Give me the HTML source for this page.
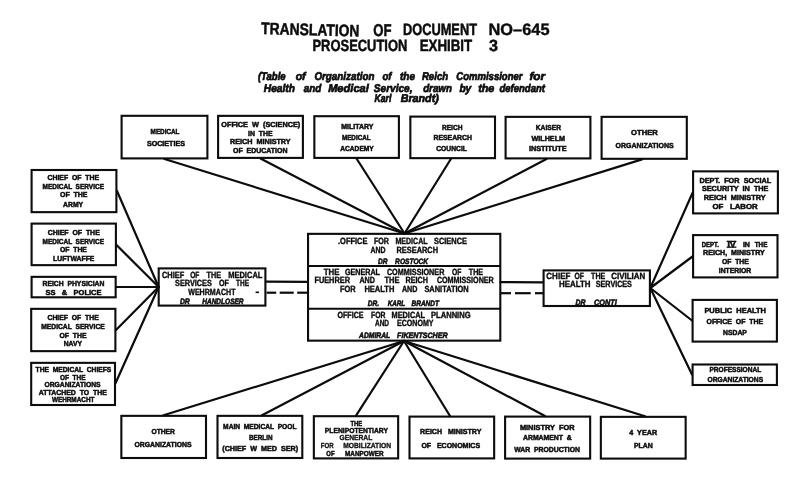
<!DOCTYPE html><html><head><meta charset="utf-8"><style>html,body{margin:0;padding:0;background:#fff;width:800px;height:480px;overflow:hidden}svg{display:block;will-change:transform}text{text-rendering:geometricPrecision}</style></head><body>
<svg width="800" height="480" viewBox="0 0 800 480">
<rect x="0" y="0" width="800" height="480" fill="#fff"/>
<g fill="none" stroke="#0c0c0c" stroke-width="2.1" stroke-linecap="square">
<rect x="121.60" y="115.80" width="85.80" height="42.60"/>
<rect x="218.10" y="115.85" width="84.80" height="42.05"/>
<rect x="314.35" y="116.20" width="84.55" height="41.70"/>
<rect x="410.35" y="116.60" width="84.65" height="41.55"/>
<rect x="505.60" y="116.85" width="84.80" height="41.55"/>
<rect x="601.60" y="116.85" width="85.20" height="41.95"/>
<rect x="31.60" y="170.00" width="84.80" height="42.15"/>
<rect x="31.60" y="223.60" width="84.30" height="41.55"/>
<rect x="31.60" y="276.85" width="84.05" height="20.45"/>
<rect x="31.20" y="308.85" width="84.20" height="42.30"/>
<rect x="31.20" y="362.85" width="83.80" height="42.15"/>
<rect x="693.10" y="171.35" width="84.80" height="42.05"/>
<rect x="693.10" y="235.10" width="84.40" height="42.30"/>
<rect x="692.60" y="299.90" width="84.30" height="41.70"/>
<rect x="692.60" y="364.50" width="84.30" height="20.50"/>
<rect x="121.35" y="415.85" width="84.65" height="42.15"/>
<rect x="217.50" y="415.85" width="84.80" height="42.15"/>
<rect x="313.85" y="416.20" width="84.30" height="42.20"/>
<rect x="409.50" y="416.60" width="84.65" height="41.80"/>
<rect x="505.10" y="416.60" width="85.05" height="42.00"/>
<rect x="600.85" y="416.85" width="84.80" height="41.75"/>
<rect x="308.05" y="233.85" width="192.25" height="106.80"/>
<rect x="158.70" y="268.40" width="106.70" height="37.20"/>
<rect x="543.60" y="270.40" width="106.30" height="35.60"/>
</g>
<g fill="none" stroke="#0c0c0c" stroke-width="2.2" stroke-linecap="round">
<line x1="164.5" y1="159" x2="404.5" y2="233.5"/>
<line x1="260.5" y1="158.5" x2="404.5" y2="233.5"/>
<line x1="356.5" y1="158.5" x2="404.5" y2="233.5"/>
<line x1="451" y1="158.75" x2="404.5" y2="233.5"/>
<line x1="546.5" y1="159" x2="404.5" y2="233.5"/>
<line x1="642" y1="159.4" x2="404.5" y2="233.5"/>
<line x1="404" y1="341" x2="163.5" y2="415.25"/>
<line x1="404" y1="341" x2="262" y2="415.25"/>
<line x1="404" y1="341" x2="356" y2="415.6"/>
<line x1="404" y1="341" x2="450" y2="416"/>
<line x1="404" y1="341" x2="545" y2="416"/>
<line x1="404" y1="341" x2="645" y2="416.25"/>
<line x1="117" y1="191" x2="158.6" y2="287"/>
<line x1="116.5" y1="245" x2="158.6" y2="287"/>
<line x1="116.25" y1="287" x2="158.6" y2="287"/>
<line x1="116" y1="330" x2="158.6" y2="287"/>
<line x1="115.6" y1="383" x2="158.6" y2="287"/>
<line x1="650.3" y1="288" x2="692.5" y2="193"/>
<line x1="650.3" y1="288" x2="692.5" y2="256.5"/>
<line x1="650.3" y1="288" x2="692" y2="320.5"/>
<line x1="650.3" y1="288" x2="692" y2="374.5"/>
<line x1="266" y1="281.6" x2="308" y2="281.8"/>
<line x1="500.6" y1="282.2" x2="543" y2="282.3"/>
<line x1="308" y1="266" x2="500.6" y2="266" stroke-linecap="butt"/>
<line x1="308" y1="308.75" x2="500.6" y2="308.75" stroke-linecap="butt"/>
<line x1="266.6" y1="292.7" x2="276.2" y2="292.7" stroke-linecap="butt"/>
<line x1="279.7" y1="292.7" x2="293.7" y2="292.7" stroke-linecap="butt"/>
<line x1="297.2" y1="292.7" x2="308" y2="292.7" stroke-linecap="butt"/>
<line x1="501" y1="293.2" x2="511" y2="293.2" stroke-linecap="butt"/>
<line x1="515" y1="293.2" x2="530.7" y2="293.2" stroke-linecap="butt"/>
<line x1="535" y1="293.2" x2="543" y2="293.2" stroke-linecap="butt"/>
</g>
<g fill="#0c0c0c">
<rect x="255.6" y="291.5" width="3.4" height="1.6"/>
<rect x="726.6" y="240.7" width="9.8" height="1.3"/>
<rect x="726.6" y="246.5" width="9.8" height="1.3"/>
<text x="150.60" y="133.68" font-size="7.35" font-family="Liberation Sans" font-weight="bold" stroke="#0c0c0c" stroke-width="0.5" textLength="28.90" lengthAdjust="spacingAndGlyphs" xml:space="preserve">MEDICAL</text>
<text x="146.90" y="146.13" font-size="7.35" font-family="Liberation Sans" font-weight="bold" stroke="#0c0c0c" stroke-width="0.5" textLength="38.10" lengthAdjust="spacingAndGlyphs" xml:space="preserve">SOCIETIES</text>
<text x="221.25" y="127.43" font-size="7.35" font-family="Liberation Sans" font-weight="bold" stroke="#0c0c0c" stroke-width="0.5" textLength="79.00" lengthAdjust="spacingAndGlyphs" xml:space="preserve">OFFICE  W  (SCIENCE)</text>
<text x="248.00" y="135.83" font-size="7.35" font-family="Liberation Sans" font-weight="bold" stroke="#0c0c0c" stroke-width="0.5" textLength="24.50" lengthAdjust="spacingAndGlyphs" xml:space="preserve">IN  THE</text>
<text x="230.00" y="144.43" font-size="7.35" font-family="Liberation Sans" font-weight="bold" stroke="#0c0c0c" stroke-width="0.5" textLength="60.60" lengthAdjust="spacingAndGlyphs" xml:space="preserve">REICH  MINISTRY</text>
<text x="233.00" y="152.90" font-size="7.35" font-family="Liberation Sans" font-weight="bold" stroke="#0c0c0c" stroke-width="0.5" textLength="54.50" lengthAdjust="spacingAndGlyphs" xml:space="preserve">OF  EDUCATION</text>
<text x="341.25" y="129.43" font-size="7.35" font-family="Liberation Sans" font-weight="bold" stroke="#0c0c0c" stroke-width="0.5" textLength="32.25" lengthAdjust="spacingAndGlyphs" xml:space="preserve">MILITARY</text>
<text x="341.90" y="140.30" font-size="7.35" font-family="Liberation Sans" font-weight="bold" stroke="#0c0c0c" stroke-width="0.5" textLength="28.70" lengthAdjust="spacingAndGlyphs" xml:space="preserve">MEDICAL</text>
<text x="340.25" y="150.93" font-size="7.35" font-family="Liberation Sans" font-weight="bold" stroke="#0c0c0c" stroke-width="0.5" textLength="33.50" lengthAdjust="spacingAndGlyphs" xml:space="preserve">ACADEMY</text>
<text x="441.90" y="129.80" font-size="7.35" font-family="Liberation Sans" font-weight="bold" stroke="#0c0c0c" stroke-width="0.5" textLength="20.60" lengthAdjust="spacingAndGlyphs" xml:space="preserve">REICH</text>
<text x="433.50" y="140.40" font-size="7.35" font-family="Liberation Sans" font-weight="bold" stroke="#0c0c0c" stroke-width="0.5" textLength="38.40" lengthAdjust="spacingAndGlyphs" xml:space="preserve">RESEARCH</text>
<text x="436.25" y="151.48" font-size="7.35" font-family="Liberation Sans" font-weight="bold" stroke="#0c0c0c" stroke-width="0.5" textLength="30.65" lengthAdjust="spacingAndGlyphs" xml:space="preserve">COUNCIL</text>
<text x="535.75" y="130.10" font-size="7.35" font-family="Liberation Sans" font-weight="bold" stroke="#0c0c0c" stroke-width="0.5" textLength="25.25" lengthAdjust="spacingAndGlyphs" xml:space="preserve">KAISER</text>
<text x="531.40" y="140.53" font-size="7.35" font-family="Liberation Sans" font-weight="bold" stroke="#0c0c0c" stroke-width="0.5" textLength="33.70" lengthAdjust="spacingAndGlyphs" xml:space="preserve">WILHELM</text>
<text x="528.90" y="151.28" font-size="7.35" font-family="Liberation Sans" font-weight="bold" stroke="#0c0c0c" stroke-width="0.5" textLength="37.85" lengthAdjust="spacingAndGlyphs" xml:space="preserve">INSTITUTE</text>
<text x="631.10" y="134.93" font-size="7.35" font-family="Liberation Sans" font-weight="bold" stroke="#0c0c0c" stroke-width="0.5" textLength="26.65" lengthAdjust="spacingAndGlyphs" xml:space="preserve">OTHER</text>
<text x="615.50" y="147.55" font-size="7.35" font-family="Liberation Sans" font-weight="bold" stroke="#0c0c0c" stroke-width="0.5" textLength="58.10" lengthAdjust="spacingAndGlyphs" xml:space="preserve">ORGANIZATIONS</text>
<text x="47.50" y="180.23" font-size="7.35" font-family="Liberation Sans" font-weight="bold" stroke="#0c0c0c" stroke-width="0.5" textLength="51.50" lengthAdjust="spacingAndGlyphs" xml:space="preserve">CHIEF  OF  THE</text>
<text x="42.50" y="189.18" font-size="7.35" font-family="Liberation Sans" font-weight="bold" stroke="#0c0c0c" stroke-width="0.5" textLength="61.50" lengthAdjust="spacingAndGlyphs" xml:space="preserve">MEDICAL  SERVICE</text>
<text x="60.00" y="197.43" font-size="7.35" font-family="Liberation Sans" font-weight="bold" stroke="#0c0c0c" stroke-width="0.5" textLength="27.50" lengthAdjust="spacingAndGlyphs" xml:space="preserve">OF  THE</text>
<text x="63.10" y="206.80" font-size="7.35" font-family="Liberation Sans" font-weight="bold" stroke="#0c0c0c" stroke-width="0.5" textLength="20.00" lengthAdjust="spacingAndGlyphs" xml:space="preserve">ARMY</text>
<text x="47.75" y="234.80" font-size="7.35" font-family="Liberation Sans" font-weight="bold" stroke="#0c0c0c" stroke-width="0.5" textLength="52.00" lengthAdjust="spacingAndGlyphs" xml:space="preserve">CHIEF  OF  THE</text>
<text x="42.50" y="243.53" font-size="7.35" font-family="Liberation Sans" font-weight="bold" stroke="#0c0c0c" stroke-width="0.5" textLength="61.50" lengthAdjust="spacingAndGlyphs" xml:space="preserve">MEDICAL  SERVICE</text>
<text x="60.00" y="251.78" font-size="7.35" font-family="Liberation Sans" font-weight="bold" stroke="#0c0c0c" stroke-width="0.5" textLength="26.90" lengthAdjust="spacingAndGlyphs" xml:space="preserve">OF  THE</text>
<text x="53.10" y="260.73" font-size="7.35" font-family="Liberation Sans" font-weight="bold" stroke="#0c0c0c" stroke-width="0.5" textLength="41.30" lengthAdjust="spacingAndGlyphs" xml:space="preserve">LUFTWAFFE</text>
<text x="42.50" y="286.03" font-size="7.35" font-family="Liberation Sans" font-weight="bold" stroke="#0c0c0c" stroke-width="0.5" textLength="61.90" lengthAdjust="spacingAndGlyphs" xml:space="preserve">REICH  PHYSICIAN</text>
<text x="45.60" y="295.23" font-size="7.35" font-family="Liberation Sans" font-weight="bold" stroke="#0c0c0c" stroke-width="0.5" textLength="55.90" lengthAdjust="spacingAndGlyphs" xml:space="preserve">SS   &amp;   POLICE</text>
<text x="47.50" y="320.43" font-size="7.35" font-family="Liberation Sans" font-weight="bold" stroke="#0c0c0c" stroke-width="0.5" textLength="51.25" lengthAdjust="spacingAndGlyphs" xml:space="preserve">CHIEF  OF  THE</text>
<text x="41.25" y="328.98" font-size="7.35" font-family="Liberation Sans" font-weight="bold" stroke="#0c0c0c" stroke-width="0.5" textLength="63.50" lengthAdjust="spacingAndGlyphs" xml:space="preserve">MEDICAL  SERVICE</text>
<text x="59.40" y="337.60" font-size="7.35" font-family="Liberation Sans" font-weight="bold" stroke="#0c0c0c" stroke-width="0.5" textLength="27.10" lengthAdjust="spacingAndGlyphs" xml:space="preserve">OF  THE</text>
<text x="63.75" y="346.03" font-size="7.35" font-family="Liberation Sans" font-weight="bold" stroke="#0c0c0c" stroke-width="0.5" textLength="18.15" lengthAdjust="spacingAndGlyphs" xml:space="preserve">NAVY</text>
<text x="35.60" y="371.80" font-size="7.35" font-family="Liberation Sans" font-weight="bold" stroke="#0c0c0c" stroke-width="0.5" textLength="75.65" lengthAdjust="spacingAndGlyphs" xml:space="preserve">THE  MEDICAL  CHIEFS</text>
<text x="60.00" y="380.03" font-size="7.35" font-family="Liberation Sans" font-weight="bold" stroke="#0c0c0c" stroke-width="0.5" textLength="25.60" lengthAdjust="spacingAndGlyphs" xml:space="preserve">OF  THE</text>
<text x="44.40" y="387.35" font-size="7.35" font-family="Liberation Sans" font-weight="bold" stroke="#0c0c0c" stroke-width="0.5" textLength="56.20" lengthAdjust="spacingAndGlyphs" xml:space="preserve">ORGANIZATIONS</text>
<text x="38.75" y="394.85" font-size="7.35" font-family="Liberation Sans" font-weight="bold" stroke="#0c0c0c" stroke-width="0.5" textLength="68.15" lengthAdjust="spacingAndGlyphs" xml:space="preserve">ATTACHED  TO  THE</text>
<text x="51.90" y="402.35" font-size="7.35" font-family="Liberation Sans" font-weight="bold" stroke="#0c0c0c" stroke-width="0.5" textLength="42.50" lengthAdjust="spacingAndGlyphs" xml:space="preserve">WEHRMACHT</text>
<text x="699.40" y="182.73" font-size="7.35" font-family="Liberation Sans" font-weight="bold" stroke="#0c0c0c" stroke-width="0.5" textLength="71.85" lengthAdjust="spacingAndGlyphs" xml:space="preserve">DEPT.  FOR  SOCIAL</text>
<text x="701.90" y="191.15" font-size="7.35" font-family="Liberation Sans" font-weight="bold" stroke="#0c0c0c" stroke-width="0.5" textLength="66.60" lengthAdjust="spacingAndGlyphs" xml:space="preserve">SECURITY  IN  THE</text>
<text x="703.75" y="199.80" font-size="7.35" font-family="Liberation Sans" font-weight="bold" stroke="#0c0c0c" stroke-width="0.5" textLength="61.85" lengthAdjust="spacingAndGlyphs" xml:space="preserve">REICH  MINISTRY</text>
<text x="712.50" y="208.53" font-size="7.35" font-family="Liberation Sans" font-weight="bold" stroke="#0c0c0c" stroke-width="0.5" textLength="45.25" lengthAdjust="spacingAndGlyphs" xml:space="preserve">OF   LABOR</text>
<text x="701.75" y="247.23" font-size="7.35" font-family="Liberation Sans" font-weight="bold" stroke="#0c0c0c" stroke-width="0.5" textLength="17.05" lengthAdjust="spacingAndGlyphs" xml:space="preserve">DEPT.</text>
<text x="727.60" y="247.23" font-size="7.35" font-family="Liberation Sans" font-weight="bold" stroke="#0c0c0c" stroke-width="0.5" textLength="7.80" lengthAdjust="spacingAndGlyphs" xml:space="preserve">IV</text>
<text x="742.90" y="247.23" font-size="7.35" font-family="Liberation Sans" font-weight="bold" stroke="#0c0c0c" stroke-width="0.5" textLength="7.00" lengthAdjust="spacingAndGlyphs" xml:space="preserve">IN</text>
<text x="754.70" y="247.23" font-size="7.35" font-family="Liberation Sans" font-weight="bold" stroke="#0c0c0c" stroke-width="0.5" textLength="12.70" lengthAdjust="spacingAndGlyphs" xml:space="preserve">THE</text>
<text x="703.10" y="255.28" font-size="7.35" font-family="Liberation Sans" font-weight="bold" stroke="#0c0c0c" stroke-width="0.5" textLength="61.65" lengthAdjust="spacingAndGlyphs" xml:space="preserve">REICH,  MINISTRY</text>
<text x="721.90" y="264.05" font-size="7.35" font-family="Liberation Sans" font-weight="bold" stroke="#0c0c0c" stroke-width="0.5" textLength="26.85" lengthAdjust="spacingAndGlyphs" xml:space="preserve">OF  THE</text>
<text x="718.75" y="272.65" font-size="7.35" font-family="Liberation Sans" font-weight="bold" stroke="#0c0c0c" stroke-width="0.5" textLength="32.50" lengthAdjust="spacingAndGlyphs" xml:space="preserve">INTERIOR</text>
<text x="704.40" y="312.93" font-size="7.35" font-family="Liberation Sans" font-weight="bold" stroke="#0c0c0c" stroke-width="0.5" textLength="61.60" lengthAdjust="spacingAndGlyphs" xml:space="preserve">PUBLIC  HEALTH</text>
<text x="706.50" y="323.85" font-size="7.35" font-family="Liberation Sans" font-weight="bold" stroke="#0c0c0c" stroke-width="0.5" textLength="56.60" lengthAdjust="spacingAndGlyphs" xml:space="preserve">OFFICE  OF  THE</text>
<text x="723.10" y="334.60" font-size="7.35" font-family="Liberation Sans" font-weight="bold" stroke="#0c0c0c" stroke-width="0.5" textLength="23.80" lengthAdjust="spacingAndGlyphs" xml:space="preserve">NSDAP</text>
<text x="709.40" y="372.43" font-size="7.35" font-family="Liberation Sans" font-weight="bold" stroke="#0c0c0c" stroke-width="0.5" textLength="51.85" lengthAdjust="spacingAndGlyphs" xml:space="preserve">PROFESSIONAL</text>
<text x="707.50" y="381.80" font-size="7.35" font-family="Liberation Sans" font-weight="bold" stroke="#0c0c0c" stroke-width="0.5" textLength="55.60" lengthAdjust="spacingAndGlyphs" xml:space="preserve">ORGANIZATIONS</text>
<text x="151.50" y="433.53" font-size="7.35" font-family="Liberation Sans" font-weight="bold" stroke="#0c0c0c" stroke-width="0.5" textLength="23.40" lengthAdjust="spacingAndGlyphs" xml:space="preserve">OTHER</text>
<text x="134.50" y="446.68" font-size="7.35" font-family="Liberation Sans" font-weight="bold" stroke="#0c0c0c" stroke-width="0.5" textLength="57.00" lengthAdjust="spacingAndGlyphs" xml:space="preserve">ORGANIZATIONS</text>
<text x="223.10" y="428.85" font-size="7.35" font-family="Liberation Sans" font-weight="bold" stroke="#0c0c0c" stroke-width="0.5" textLength="73.40" lengthAdjust="spacingAndGlyphs" xml:space="preserve">MAIN  MEDICAL  POOL</text>
<text x="249.00" y="439.93" font-size="7.35" font-family="Liberation Sans" font-weight="bold" stroke="#0c0c0c" stroke-width="0.5" textLength="23.50" lengthAdjust="spacingAndGlyphs" xml:space="preserve">BERLIN</text>
<text x="222.25" y="450.73" font-size="7.35" font-family="Liberation Sans" font-weight="bold" stroke="#0c0c0c" stroke-width="0.5" textLength="75.85" lengthAdjust="spacingAndGlyphs" xml:space="preserve">(CHIEF  W  MED  SER)</text>
<text x="350.40" y="425.53" font-size="7.35" font-family="Liberation Sans" font-weight="bold" stroke="#0c0c0c" stroke-width="0.5" textLength="11.85" lengthAdjust="spacingAndGlyphs" xml:space="preserve">THE</text>
<text x="324.75" y="433.23" font-size="7.35" font-family="Liberation Sans" font-weight="bold" stroke="#0c0c0c" stroke-width="0.5" textLength="63.15" lengthAdjust="spacingAndGlyphs" xml:space="preserve">PLENIPOTENTIARY</text>
<text x="339.50" y="440.35" font-size="7.35" font-family="Liberation Sans" font-weight="bold" stroke="#0c0c0c" stroke-width="0.3" textLength="32.75" lengthAdjust="spacingAndGlyphs" xml:space="preserve">GENERAL</text>
<text x="320.85" y="448.23" font-size="7.35" font-family="Liberation Sans" font-weight="bold" stroke="#0c0c0c" stroke-width="0.3" textLength="12.85" lengthAdjust="spacingAndGlyphs" xml:space="preserve">FOR</text>
<text x="343.20" y="448.23" font-size="7.35" font-family="Liberation Sans" font-weight="bold" stroke="#0c0c0c" stroke-width="0.3" textLength="47.90" lengthAdjust="spacingAndGlyphs" xml:space="preserve">MOBILIZATION</text>
<text x="326.30" y="455.65" font-size="7.35" font-family="Liberation Sans" font-weight="bold" stroke="#0c0c0c" stroke-width="0.5" textLength="8.30" lengthAdjust="spacingAndGlyphs" xml:space="preserve">OF</text>
<text x="345.00" y="455.65" font-size="7.35" font-family="Liberation Sans" font-weight="bold" stroke="#0c0c0c" stroke-width="0.5" textLength="38.50" lengthAdjust="spacingAndGlyphs" xml:space="preserve">MANPOWER</text>
<text x="420.10" y="434.10" font-size="7.35" font-family="Liberation Sans" font-weight="bold" stroke="#0c0c0c" stroke-width="0.5" textLength="61.30" lengthAdjust="spacingAndGlyphs" xml:space="preserve">REICH   MINISTRY</text>
<text x="421.40" y="447.73" font-size="7.35" font-family="Liberation Sans" font-weight="bold" stroke="#0c0c0c" stroke-width="0.5" textLength="58.70" lengthAdjust="spacingAndGlyphs" xml:space="preserve">OF   ECONOMICS</text>
<text x="519.90" y="429.80" font-size="7.35" font-family="Liberation Sans" font-weight="bold" stroke="#0c0c0c" stroke-width="0.5" textLength="54.60" lengthAdjust="spacingAndGlyphs" xml:space="preserve">MINISTRY  FOR</text>
<text x="523.00" y="440.23" font-size="7.35" font-family="Liberation Sans" font-weight="bold" stroke="#0c0c0c" stroke-width="0.5" textLength="48.75" lengthAdjust="spacingAndGlyphs" xml:space="preserve">ARMAMENT  &amp;</text>
<text x="514.25" y="451.60" font-size="7.35" font-family="Liberation Sans" font-weight="bold" stroke="#0c0c0c" stroke-width="0.5" textLength="65.65" lengthAdjust="spacingAndGlyphs" xml:space="preserve">WAR  PRODUCTION</text>
<text x="629.25" y="435.10" font-size="7.35" font-family="Liberation Sans" font-weight="bold" stroke="#0c0c0c" stroke-width="0.5" textLength="27.85" lengthAdjust="spacingAndGlyphs" xml:space="preserve">4  YEAR</text>
<text x="634.00" y="447.73" font-size="7.35" font-family="Liberation Sans" font-weight="bold" stroke="#0c0c0c" stroke-width="0.5" textLength="18.75" lengthAdjust="spacingAndGlyphs" xml:space="preserve">PLAN</text>
<text x="338.00" y="243.83" font-size="8.95" font-family="Liberation Sans" font-weight="bold" stroke="#0c0c0c" stroke-width="0.4" textLength="29.50" lengthAdjust="spacingAndGlyphs" xml:space="preserve">.OFFICE</text>
<text x="374.00" y="243.83" font-size="8.95" font-family="Liberation Sans" font-weight="bold" stroke="#0c0c0c" stroke-width="0.4" textLength="15.00" lengthAdjust="spacingAndGlyphs" xml:space="preserve">FOR</text>
<text x="395.50" y="243.83" font-size="8.95" font-family="Liberation Sans" font-weight="bold" stroke="#0c0c0c" stroke-width="0.4" textLength="32.00" lengthAdjust="spacingAndGlyphs" xml:space="preserve">MEDICAL</text>
<text x="434.00" y="243.83" font-size="8.95" font-family="Liberation Sans" font-weight="bold" stroke="#0c0c0c" stroke-width="0.4" textLength="33.00" lengthAdjust="spacingAndGlyphs" xml:space="preserve">SCIENCE</text>
<text x="370.50" y="252.78" font-size="8.95" font-family="Liberation Sans" font-weight="bold" stroke="#0c0c0c" stroke-width="0.4" textLength="15.00" lengthAdjust="spacingAndGlyphs" xml:space="preserve">AND</text>
<text x="396.50" y="252.78" font-size="8.95" font-family="Liberation Sans" font-weight="bold" stroke="#0c0c0c" stroke-width="0.4" textLength="41.50" lengthAdjust="spacingAndGlyphs" xml:space="preserve">RESEARCH</text>
<text x="378.10" y="263.91" font-size="7.80" font-family="Liberation Sans" font-weight="bold" font-style="italic" stroke="#0c0c0c" stroke-width="0.55" textLength="9.50" lengthAdjust="spacingAndGlyphs" xml:space="preserve">DR</text>
<text x="395.10" y="263.91" font-size="7.80" font-family="Liberation Sans" font-weight="bold" font-style="italic" stroke="#0c0c0c" stroke-width="0.55" textLength="33.00" lengthAdjust="spacingAndGlyphs" xml:space="preserve">ROSTOCK</text>
<text x="323.75" y="274.65" font-size="8.95" font-family="Liberation Sans" font-weight="bold" stroke="#0c0c0c" stroke-width="0.4" textLength="15.65" lengthAdjust="spacingAndGlyphs" xml:space="preserve">THE</text>
<text x="345.00" y="274.65" font-size="8.95" font-family="Liberation Sans" font-weight="bold" stroke="#0c0c0c" stroke-width="0.4" textLength="35.00" lengthAdjust="spacingAndGlyphs" xml:space="preserve">GENERAL</text>
<text x="386.90" y="274.65" font-size="8.95" font-family="Liberation Sans" font-weight="bold" stroke="#0c0c0c" stroke-width="0.4" textLength="57.50" lengthAdjust="spacingAndGlyphs" xml:space="preserve">COMMISSIONER</text>
<text x="451.90" y="274.65" font-size="8.95" font-family="Liberation Sans" font-weight="bold" stroke="#0c0c0c" stroke-width="0.4" textLength="9.35" lengthAdjust="spacingAndGlyphs" xml:space="preserve">OF</text>
<text x="468.75" y="274.65" font-size="8.95" font-family="Liberation Sans" font-weight="bold" stroke="#0c0c0c" stroke-width="0.4" textLength="14.35" lengthAdjust="spacingAndGlyphs" xml:space="preserve">THE</text>
<text x="314.40" y="283.38" font-size="8.95" font-family="Liberation Sans" font-weight="bold" stroke="#0c0c0c" stroke-width="0.4" textLength="35.60" lengthAdjust="spacingAndGlyphs" xml:space="preserve">FUEHRER</text>
<text x="359.40" y="283.38" font-size="8.95" font-family="Liberation Sans" font-weight="bold" stroke="#0c0c0c" stroke-width="0.4" textLength="15.60" lengthAdjust="spacingAndGlyphs" xml:space="preserve">AND</text>
<text x="384.40" y="283.38" font-size="8.95" font-family="Liberation Sans" font-weight="bold" stroke="#0c0c0c" stroke-width="0.4" textLength="15.00" lengthAdjust="spacingAndGlyphs" xml:space="preserve">THE</text>
<text x="405.50" y="283.38" font-size="8.95" font-family="Liberation Sans" font-weight="bold" stroke="#0c0c0c" stroke-width="0.4" textLength="22.60" lengthAdjust="spacingAndGlyphs" xml:space="preserve">REICH</text>
<text x="436.90" y="283.38" font-size="8.95" font-family="Liberation Sans" font-weight="bold" stroke="#0c0c0c" stroke-width="0.4" textLength="56.85" lengthAdjust="spacingAndGlyphs" xml:space="preserve">COMMISSIONER</text>
<text x="340.00" y="292.45" font-size="8.95" font-family="Liberation Sans" font-weight="bold" stroke="#0c0c0c" stroke-width="0.4" textLength="15.60" lengthAdjust="spacingAndGlyphs" xml:space="preserve">FOR</text>
<text x="364.40" y="292.45" font-size="8.95" font-family="Liberation Sans" font-weight="bold" stroke="#0c0c0c" stroke-width="0.4" textLength="30.00" lengthAdjust="spacingAndGlyphs" xml:space="preserve">HEALTH</text>
<text x="401.90" y="292.45" font-size="8.95" font-family="Liberation Sans" font-weight="bold" stroke="#0c0c0c" stroke-width="0.4" textLength="15.60" lengthAdjust="spacingAndGlyphs" xml:space="preserve">AND</text>
<text x="424.40" y="292.45" font-size="8.95" font-family="Liberation Sans" font-weight="bold" stroke="#0c0c0c" stroke-width="0.4" textLength="44.35" lengthAdjust="spacingAndGlyphs" xml:space="preserve">SANITATION</text>
<text x="367.70" y="306.41" font-size="7.80" font-family="Liberation Sans" font-weight="bold" font-style="italic" stroke="#0c0c0c" stroke-width="0.55" textLength="11.30" lengthAdjust="spacingAndGlyphs" xml:space="preserve">DR.</text>
<text x="387.70" y="306.41" font-size="7.80" font-family="Liberation Sans" font-weight="bold" font-style="italic" stroke="#0c0c0c" stroke-width="0.55" textLength="17.50" lengthAdjust="spacingAndGlyphs" xml:space="preserve">KARL</text>
<text x="411.50" y="306.41" font-size="7.80" font-family="Liberation Sans" font-weight="bold" font-style="italic" stroke="#0c0c0c" stroke-width="0.55" textLength="27.50" lengthAdjust="spacingAndGlyphs" xml:space="preserve">BRANDT</text>
<text x="337.50" y="317.58" font-size="8.95" font-family="Liberation Sans" font-weight="bold" stroke="#0c0c0c" stroke-width="0.4" textLength="26.00" lengthAdjust="spacingAndGlyphs" xml:space="preserve">OFFICE</text>
<text x="371.00" y="317.58" font-size="8.95" font-family="Liberation Sans" font-weight="bold" stroke="#0c0c0c" stroke-width="0.4" textLength="14.50" lengthAdjust="spacingAndGlyphs" xml:space="preserve">FOR</text>
<text x="391.50" y="317.58" font-size="8.95" font-family="Liberation Sans" font-weight="bold" stroke="#0c0c0c" stroke-width="0.4" textLength="33.50" lengthAdjust="spacingAndGlyphs" xml:space="preserve">MEDICAL</text>
<text x="431.00" y="317.58" font-size="8.95" font-family="Liberation Sans" font-weight="bold" stroke="#0c0c0c" stroke-width="0.4" textLength="39.60" lengthAdjust="spacingAndGlyphs" xml:space="preserve">PLANNING</text>
<text x="375.00" y="326.33" font-size="8.95" font-family="Liberation Sans" font-weight="bold" stroke="#0c0c0c" stroke-width="0.4" textLength="14.00" lengthAdjust="spacingAndGlyphs" xml:space="preserve">AND</text>
<text x="397.00" y="326.33" font-size="8.95" font-family="Liberation Sans" font-weight="bold" stroke="#0c0c0c" stroke-width="0.4" textLength="36.50" lengthAdjust="spacingAndGlyphs" xml:space="preserve">ECONOMY</text>
<text x="359.10" y="338.08" font-size="7.80" font-family="Liberation Sans" font-weight="bold" font-style="italic" stroke="#0c0c0c" stroke-width="0.55" textLength="31.00" lengthAdjust="spacingAndGlyphs" xml:space="preserve">ADMIRAL</text>
<text x="397.10" y="338.08" font-size="7.80" font-family="Liberation Sans" font-weight="bold" font-style="italic" stroke="#0c0c0c" stroke-width="0.55" textLength="50.50" lengthAdjust="spacingAndGlyphs" xml:space="preserve">FIKENTSCHER</text>
<text x="162.00" y="277.88" font-size="8.95" font-family="Liberation Sans" font-weight="bold" stroke="#0c0c0c" stroke-width="0.4" textLength="22.30" lengthAdjust="spacingAndGlyphs" xml:space="preserve">CHIEF</text>
<text x="190.20" y="277.88" font-size="8.95" font-family="Liberation Sans" font-weight="bold" stroke="#0c0c0c" stroke-width="0.4" textLength="9.20" lengthAdjust="spacingAndGlyphs" xml:space="preserve">OF</text>
<text x="206.60" y="277.88" font-size="8.95" font-family="Liberation Sans" font-weight="bold" stroke="#0c0c0c" stroke-width="0.4" textLength="14.40" lengthAdjust="spacingAndGlyphs" xml:space="preserve">THE</text>
<text x="228.20" y="277.88" font-size="8.95" font-family="Liberation Sans" font-weight="bold" stroke="#0c0c0c" stroke-width="0.4" textLength="34.20" lengthAdjust="spacingAndGlyphs" xml:space="preserve">MEDICAL</text>
<text x="175.10" y="286.28" font-size="8.95" font-family="Liberation Sans" font-weight="bold" stroke="#0c0c0c" stroke-width="0.4" textLength="36.70" lengthAdjust="spacingAndGlyphs" xml:space="preserve">SERVICES</text>
<text x="219.00" y="286.28" font-size="8.95" font-family="Liberation Sans" font-weight="bold" stroke="#0c0c0c" stroke-width="0.4" textLength="9.90" lengthAdjust="spacingAndGlyphs" xml:space="preserve">OF</text>
<text x="236.10" y="286.28" font-size="8.95" font-family="Liberation Sans" font-weight="bold" stroke="#0c0c0c" stroke-width="0.4" textLength="13.10" lengthAdjust="spacingAndGlyphs" xml:space="preserve">THE</text>
<text x="188.20" y="295.28" font-size="8.95" font-family="Liberation Sans" font-weight="bold" stroke="#0c0c0c" stroke-width="0.4" textLength="47.30" lengthAdjust="spacingAndGlyphs" xml:space="preserve">WEHRMACHT</text>
<text x="179.90" y="303.88" font-size="7.80" font-family="Liberation Sans" font-weight="bold" font-style="italic" stroke="#0c0c0c" stroke-width="0.55" textLength="9.90" lengthAdjust="spacingAndGlyphs" xml:space="preserve">DR</text>
<text x="202.20" y="303.88" font-size="7.80" font-family="Liberation Sans" font-weight="bold" font-style="italic" stroke="#0c0c0c" stroke-width="0.55" textLength="41.40" lengthAdjust="spacingAndGlyphs" xml:space="preserve">HANDLOSER</text>
<text x="546.30" y="279.08" font-size="8.95" font-family="Liberation Sans" font-weight="bold" stroke="#0c0c0c" stroke-width="0.4" textLength="24.10" lengthAdjust="spacingAndGlyphs" xml:space="preserve">CHIEF</text>
<text x="574.40" y="279.08" font-size="8.95" font-family="Liberation Sans" font-weight="bold" stroke="#0c0c0c" stroke-width="0.4" textLength="9.40" lengthAdjust="spacingAndGlyphs" xml:space="preserve">OF</text>
<text x="591.10" y="279.08" font-size="8.95" font-family="Liberation Sans" font-weight="bold" stroke="#0c0c0c" stroke-width="0.4" textLength="14.10" lengthAdjust="spacingAndGlyphs" xml:space="preserve">THE</text>
<text x="611.20" y="279.08" font-size="8.95" font-family="Liberation Sans" font-weight="bold" stroke="#0c0c0c" stroke-width="0.4" textLength="34.10" lengthAdjust="spacingAndGlyphs" xml:space="preserve">CIVILIAN</text>
<text x="559.00" y="287.38" font-size="8.95" font-family="Liberation Sans" font-weight="bold" stroke="#0c0c0c" stroke-width="0.4" textLength="31.50" lengthAdjust="spacingAndGlyphs" xml:space="preserve">HEALTH</text>
<text x="595.80" y="287.38" font-size="8.95" font-family="Liberation Sans" font-weight="bold" stroke="#0c0c0c" stroke-width="0.4" textLength="36.10" lengthAdjust="spacingAndGlyphs" xml:space="preserve">SERVICES</text>
<text x="575.40" y="304.98" font-size="7.80" font-family="Liberation Sans" font-weight="bold" font-style="italic" stroke="#0c0c0c" stroke-width="0.55" textLength="10.00" lengthAdjust="spacingAndGlyphs" xml:space="preserve">DR</text>
<text x="594.10" y="304.98" font-size="7.80" font-family="Liberation Sans" font-weight="bold" font-style="italic" stroke="#0c0c0c" stroke-width="0.55" textLength="22.70" lengthAdjust="spacingAndGlyphs" xml:space="preserve">CONTI</text>
<g transform="translate(261.00 34.10) rotate(1.4) scale(1 1.200)"><text x="0" y="0" font-size="13.81" font-family="Liberation Sans" font-weight="bold" stroke="#0c0c0c" stroke-width="0.4" textLength="98.30" lengthAdjust="spacingAndGlyphs">TRANSLATION</text></g>
<g transform="translate(373.20 35.80) scale(1 1.251)"><text x="0" y="0" font-size="13.65" font-family="Liberation Sans" font-weight="bold" stroke="#0c0c0c" stroke-width="0.4" textLength="18.30" lengthAdjust="spacingAndGlyphs">OF</text></g>
<g transform="translate(402.90 35.35) scale(1 1.276)"><text x="0" y="0" font-size="12.93" font-family="Liberation Sans" font-weight="bold" stroke="#0c0c0c" stroke-width="0.4" textLength="74.10" lengthAdjust="spacingAndGlyphs">DOCUMENT</text></g>
<g transform="translate(488.50 34.70) scale(1 1.000)"><text x="0" y="0" font-size="16.57" font-family="Liberation Sans" font-weight="bold" stroke="#0c0c0c" stroke-width="0.4" textLength="61.00" lengthAdjust="spacingAndGlyphs">NO–645</text></g>
<g transform="translate(312.50 51.15) scale(1 1.236)"><text x="0" y="0" font-size="13.11" font-family="Liberation Sans" font-weight="bold" stroke="#0c0c0c" stroke-width="0.4" textLength="94.80" lengthAdjust="spacingAndGlyphs">PROSECUTION</text></g>
<g transform="translate(419.70 51.15) scale(1 1.203)"><text x="0" y="0" font-size="13.47" font-family="Liberation Sans" font-weight="bold" stroke="#0c0c0c" stroke-width="0.4" textLength="52.50" lengthAdjust="spacingAndGlyphs">EXHIBIT</text></g>
<g transform="translate(489.00 51.15) scale(1 1.000)"><text x="0" y="0" font-size="16.21" font-family="Liberation Sans" font-weight="bold" stroke="#0c0c0c" stroke-width="0.4" textLength="9.00" lengthAdjust="spacingAndGlyphs">3</text></g>
<text x="257.90" y="79.50" font-size="11.2" font-family="Liberation Sans" font-weight="bold" font-style="italic" stroke="#0c0c0c" stroke-width="0.7" textLength="27.75" lengthAdjust="spacingAndGlyphs">(Table</text>
<text x="295.65" y="79.50" font-size="11.2" font-family="Liberation Sans" font-weight="bold" font-style="italic" stroke="#0c0c0c" stroke-width="0.7" textLength="10.00" lengthAdjust="spacingAndGlyphs">of</text>
<text x="314.40" y="79.50" font-size="11.2" font-family="Liberation Sans" font-weight="bold" font-style="italic" stroke="#0c0c0c" stroke-width="0.7" textLength="60.00" lengthAdjust="spacingAndGlyphs">Organization</text>
<text x="382.40" y="79.50" font-size="11.2" font-family="Liberation Sans" font-weight="bold" font-style="italic" stroke="#0c0c0c" stroke-width="0.7" textLength="9.00" lengthAdjust="spacingAndGlyphs">of</text>
<text x="400.00" y="79.50" font-size="11.2" font-family="Liberation Sans" font-weight="bold" font-style="italic" stroke="#0c0c0c" stroke-width="0.7" textLength="15.00" lengthAdjust="spacingAndGlyphs">the</text>
<text x="421.90" y="79.50" font-size="11.2" font-family="Liberation Sans" font-weight="bold" font-style="italic" stroke="#0c0c0c" stroke-width="0.7" textLength="26.25" lengthAdjust="spacingAndGlyphs">Reich</text>
<text x="456.30" y="79.50" font-size="11.2" font-family="Liberation Sans" font-weight="bold" font-style="italic" stroke="#0c0c0c" stroke-width="0.7" textLength="66.20" lengthAdjust="spacingAndGlyphs">Commissioner</text>
<text x="529.40" y="79.50" font-size="11.2" font-family="Liberation Sans" font-weight="bold" font-style="italic" stroke="#0c0c0c" stroke-width="0.7" textLength="15.60" lengthAdjust="spacingAndGlyphs">for</text>
<text x="263.80" y="91.80" font-size="11.2" font-family="Liberation Sans" font-weight="bold" font-style="italic" stroke="#0c0c0c" stroke-width="0.7" textLength="31.20" lengthAdjust="spacingAndGlyphs">Health</text>
<text x="303.80" y="91.80" font-size="11.2" font-family="Liberation Sans" font-weight="bold" font-style="italic" stroke="#0c0c0c" stroke-width="0.7" textLength="17.50" lengthAdjust="spacingAndGlyphs">and</text>
<text x="328.15" y="91.80" font-size="11.2" font-family="Liberation Sans" font-weight="bold" font-style="italic" stroke="#0c0c0c" stroke-width="0.7" textLength="40.65" lengthAdjust="spacingAndGlyphs">Medical</text>
<text x="373.80" y="91.80" font-size="11.2" font-family="Liberation Sans" font-weight="bold" font-style="italic" stroke="#0c0c0c" stroke-width="0.7" textLength="38.70" lengthAdjust="spacingAndGlyphs">Service,</text>
<text x="423.15" y="91.80" font-size="11.2" font-family="Liberation Sans" font-weight="bold" font-style="italic" stroke="#0c0c0c" stroke-width="0.7" textLength="28.75" lengthAdjust="spacingAndGlyphs">drawn</text>
<text x="459.40" y="91.80" font-size="11.2" font-family="Liberation Sans" font-weight="bold" font-style="italic" stroke="#0c0c0c" stroke-width="0.7" textLength="11.90" lengthAdjust="spacingAndGlyphs">by</text>
<text x="478.15" y="91.80" font-size="11.2" font-family="Liberation Sans" font-weight="bold" font-style="italic" stroke="#0c0c0c" stroke-width="0.7" textLength="16.25" lengthAdjust="spacingAndGlyphs">the</text>
<text x="499.40" y="91.80" font-size="11.2" font-family="Liberation Sans" font-weight="bold" font-style="italic" stroke="#0c0c0c" stroke-width="0.7" textLength="45.60" lengthAdjust="spacingAndGlyphs">defendant</text>
<text x="374.40" y="102.30" font-size="11.2" font-family="Liberation Sans" font-weight="bold" font-style="italic" stroke="#0c0c0c" stroke-width="0.7" textLength="16.90" lengthAdjust="spacingAndGlyphs">Karl</text>
<text x="400.65" y="102.30" font-size="11.2" font-family="Liberation Sans" font-weight="bold" font-style="italic" stroke="#0c0c0c" stroke-width="0.7" textLength="38.15" lengthAdjust="spacingAndGlyphs">Brandt)</text>
</g>
</svg></body></html>
